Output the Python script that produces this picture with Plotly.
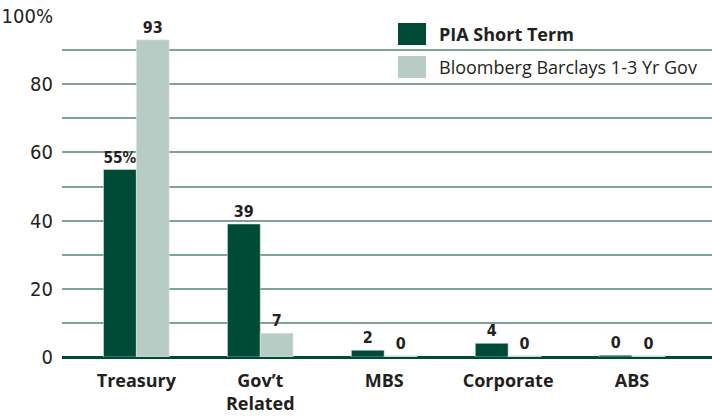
import plotly.graph_objects as go

categories = ["Treasury", "Gov’t<br>Related", "MBS", "Corporate", "ABS"]
pia_values = [55, 39, 2, 4, 0.5]
bench_values = [93, 7, 0.4, 0.4, 0.4]
pia_labels = ["55%", "39", "2", "4", "0"]
bench_labels = ["93", "7", "0", "0", "0"]
series_names = ["PIA Short Term", "Bloomberg Barclays 1-3 Yr Gov"]
tick_vals = [0, 20, 40, 60, 80, 100]
tick_text = ["0", "20", "40", "60", "80", "100%"]

DARK = "#004b35"
LIGHT = "#b6ccc4"
GRID = "#7fa394"
TXT = "#231f20"
COND = "Liberation Sans Narrow, DejaVu Sans Condensed, Arial Narrow, sans-serif"
SANS = "Open Sans, Noto Sans, sans-serif"

fig = go.Figure()
fig.add_trace(go.Bar(x=categories, y=pia_values, name=series_names[0], marker_color=DARK,
                     text=pia_labels, textposition="outside", cliponaxis=False,
                     textfont=dict(family=COND, size=16, color=TXT, weight="bold"),
                     showlegend=False))
fig.add_trace(go.Bar(x=categories, y=bench_values, name=series_names[1], marker_color=LIGHT,
                     text=bench_labels, textposition="outside", cliponaxis=False,
                     textfont=dict(family=COND, size=16, color=TXT, weight="bold"),
                     showlegend=False))

# legend swatches and labels
legend_items = [(series_names[0], DARK, "bold"), (series_names[1], LIGHT, "normal")]
for i, (name, col, w) in enumerate(legend_items):
    y0 = 23 + i * 33
    fig.add_shape(type="rect", xref="paper", yref="paper",
                  x0=(398 - 62) / 650, x1=(426 - 62) / 650,
                  y0=1 - (y0 + 22 - 16) / 341, y1=1 - (y0 - 16) / 341,
                  fillcolor=col, line_width=0, layer="above")
    fig.add_annotation(text=name, xref="paper", yref="paper",
                       x=(437 - 62) / 650, y=1 - (y0 + 11 - 16) / 341,
                       xanchor="left", yanchor="middle", showarrow=False,
                       font=dict(family=SANS, size=18, color=TXT, weight=w))

fig.update_layout(
    width=712, height=418,
    margin=dict(l=62, r=0, t=16, b=61),
    paper_bgcolor="white", plot_bgcolor="white",
    barmode="group", bargap=0.47, bargroupgap=0,
    showlegend=False,
    xaxis=dict(range=[-0.6, 4.645], showgrid=False, showline=False, ticks="",
               automargin=False,
               tickfont=dict(family=SANS, size=18, color=TXT, weight="bold"),
               ticklabelstandoff=11),
    yaxis=dict(range=[0, 100], tickvals=tick_vals, ticktext=tick_text,
               automargin=False,
               showgrid=True, gridcolor=GRID, gridwidth=1.6,
               minor=dict(dtick=10, showgrid=True, gridcolor=GRID, gridwidth=1.6),
               zeroline=True, zerolinecolor=DARK, zerolinewidth=3,
               showline=False, ticks="", ticklabelstandoff=8,
               tickfont=dict(family=COND, size=20, color=TXT)),
)

fig.write_html("out.html", config={"displayModeBar": False},
               post_script="document.body.style.margin='0';document.body.style.padding='0';")
